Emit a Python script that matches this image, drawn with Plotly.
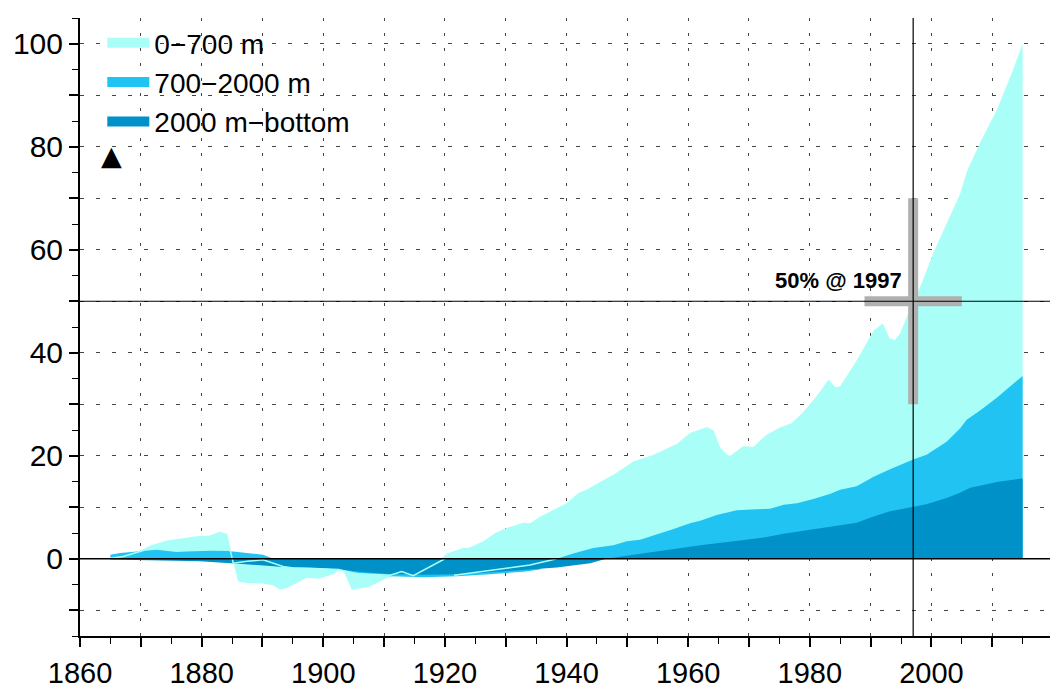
import plotly.graph_objects as go

# ---------------- data (percent of 2015 total) ----------------
total_years = [1865.0, 1866.6, 1868.8, 1871.5, 1874.3, 1876.4, 1879.2, 1881.1, 1883.0, 1884.1,
               1885.2, 1886.0, 1887.4, 1890.1, 1891.8, 1892.9, 1894.0, 1896.5, 1897.3, 1899.2,
               1901.7, 1902.5, 1903.3, 1904.7, 1907.5, 1910.4, 1912.9, 1914.8, 1919.5, 1920.3,
               1923.0, 1924.1, 1926.3, 1928.3, 1930.2, 1932.9, 1934.0, 1935.7, 1937.3, 1940.0,
               1942.0, 1943.3, 1946.1, 1947.7, 1951.0, 1954.3, 1958.1, 1960.3, 1963.1, 1964.2,
               1965.3, 1966.4, 1966.9, 1969.1, 1970.7, 1972.9, 1975.1, 1977.0, 1979.0, 1981.2,
               1983.1, 1984.2, 1985.0, 1987.7, 1990.5, 1992.0, 1993.1, 1994.0, 1994.9, 1996.5,
               1998.2, 2000.3, 2002.5, 2004.7, 2005.8, 2008.0, 2010.8, 2013.5, 2015.0]
total_pct = [0.1, 0.4, 1.1, 2.4, 3.4, 3.8, 4.2, 4.3, 5.1, 4.7,
             -0.85, -4.4, -4.7, -4.8, -5.2, -6.0, -5.7, -4.1, -3.7, -3.9,
             -3.0, -2.2, -2.3, -6.0, -5.5, -3.8, -2.8, -3.2, 0.1, 1.0,
             2.1, 2.2, 3.4, 5.0, 6.0, 7.0, 6.9, 8.2, 9.2, 10.8,
             12.8, 13.4, 15.3, 16.3, 18.9, 20.2, 22.3, 24.4, 25.6, 24.9,
             21.5, 20.2, 20.0, 21.9, 21.7, 24.1, 25.5, 26.3, 28.6, 31.7,
             34.8, 33.3, 33.5, 38.5, 44.3, 45.7, 42.8, 42.5, 43.9, 48.6,
             52.9, 59.3, 65.1, 70.8, 75.1, 80.8, 87.3, 95.2, 100.0]

mid_years = [1865.0, 1866.6, 1869.3, 1872.6, 1873.7, 1875.9, 1877.5, 1881.4, 1884.4, 1887.4,
             1890.1, 1891.8, 1895.0, 1900.0, 1903.0, 1905.0, 1907.2, 1910.0, 1911.0, 1916.5,
             1922.0, 1927.4, 1932.9, 1935.6, 1938.4, 1941.1, 1944.4, 1947.7, 1949.9, 1952.1,
             1954.8, 1957.6, 1960.3, 1962.0, 1964.7, 1968.0, 1971.3, 1973.5, 1975.7, 1977.9,
             1980.6, 1983.4, 1985.0, 1987.7, 1990.5, 1993.2, 1996.9, 1999.2, 2002.5, 2004.7,
             2005.8, 2008.0, 2010.8, 2015.0]
mid_pct = [0.8, 1.1, 1.4, 1.75, 1.6, 1.3, 1.4, 1.55, 1.5, 1.1,
           0.8, 0.0, -0.8, -1.5, -2.0, -2.6, -3.0, -3.2, -3.4, -3.6,
           -3.4, -3.0, -2.5, -2.1, 0.0, 1.0, 2.1, 2.6, 3.4, 3.7,
           4.7, 5.8, 6.9, 7.4, 8.5, 9.4, 9.6, 9.7, 10.5, 10.8,
           11.6, 12.6, 13.4, 14.1, 15.9, 17.4, 19.2, 20.2, 22.7, 25.3,
           27.0, 28.8, 31.3, 35.5]

deep_years = [1865.0, 1871.5, 1879.7, 1884.8, 1889.6, 1893.4, 1898.9, 1902.7, 1907.2, 1911.0,
              1916.5, 1922.0, 1927.4, 1932.9, 1938.4, 1943.9, 1946.5, 1949.9, 1956.5, 1962.0,
              1967.5, 1972.9, 1975.7, 1978.4, 1983.9, 1987.7, 1990.5, 1993.2, 1996.9, 1999.2,
              2002.5, 2004.7, 2006.4, 2008.0, 2010.8, 2015.0]
deep_pct = [-0.15, -0.25, -0.5, -0.85, -1.2, -1.6, -1.8, -2.1, -2.65, -2.95,
            -3.1, -3.0, -2.6, -2.1, -1.7, -0.85, 0.0, 0.6, 1.75, 2.6,
            3.4, 4.2, 4.85, 5.3, 6.3, 7.0, 8.2, 9.2, 10.0, 10.6,
            11.8, 12.8, 13.8, 14.2, 14.9, 15.6]

# thin light outline visible over the darker fills (None = gap)
edge_years = [1865.0, 1867.1, 1870.4, 1871.5, 1874.3, 1876.4, 1879.2, 1881.1, 1883.0, 1884.1,
              1885.2, 1887.5, 1890.1, 1893.4, 1895.1, 1898.4, 1902.5, 1903.3, 1904.4, 1907.7,
              1910.4, 1911.0, 1912.9, 1914.8, 1920.0, None, 1921.5, 1924.6, 1929.0, 1934.0, 1938.4]
edge_pct = [0.1, 0.45, 1.6, 2.4, 3.4, 3.8, 4.2, 4.3, 5.1, 4.7,
            -0.85, -0.5, -0.2, -1.5, -1.8, -1.9, -2.1, -2.3, -2.8, -3.0,
            -3.1, -3.2, -2.5, -3.3, 0.0, None, -3.2, -2.7, -2.1, -1.2, 0.0]

layer_names = ["0\u2212700 m", "700\u22122000 m", "2000 m\u2212bottom"]

half_year = 1997
half_pct = 50
cross_x = [1989, 2005]
cross_y = [30, 70]

x_tickvals = list(range(1860, 2020, 10))
x_ticktext = [str(v) if v % 20 == 0 else "" for v in x_tickvals]
y_tickvals = list(range(-10, 110, 10))
y_ticktext = [str(v) if v % 20 == 0 else "" for v in y_tickvals]

# ---------------- styling ----------------
C_LIGHT = "#A9FFF8"
C_MID = "#21C3F2"
C_DARK = "#0091C8"
FONT = "Liberation Sans, Arial, Helvetica, sans-serif"

fig = go.Figure()

for yrs, vals, col in [(total_years, total_pct, C_LIGHT),
                       (mid_years, mid_pct, C_MID),
                       (deep_years, deep_pct, C_DARK)]:
    fig.add_trace(go.Scatter(x=yrs, y=vals, mode="lines", fill="tozeroy",
                             fillcolor=col, line=dict(width=0, color=col),
                             showlegend=False, hoverinfo="skip"))

fig.add_trace(go.Scatter(x=edge_years, y=edge_pct, mode="lines",
                         line=dict(width=1.5, color=C_LIGHT), connectgaps=False,
                         showlegend=False, hoverinfo="skip"))

# gray cross at the 50 % crossing
fig.add_trace(go.Scatter(x=cross_x, y=[half_pct, half_pct], mode="lines",
                         line=dict(width=10, color="#B0B0B0"), showlegend=False,
                         hoverinfo="skip"))
fig.add_trace(go.Scatter(x=[half_year, half_year], y=cross_y, mode="lines",
                         line=dict(width=10, color="#B0B0B0"), showlegend=False,
                         hoverinfo="skip"))

# legend-only entries
for name, col in zip(layer_names, [C_LIGHT, C_MID, C_DARK]):
    fig.add_trace(go.Scatter(x=[None], y=[None], mode="lines", name=name,
                             line=dict(width=10, color=col)))

# extra legend glyph (black triangle) below the entries
fig.add_annotation(x=0.032, y=0.777, xref="paper", yref="paper", text="\u25B2",
                   showarrow=False, xanchor="center", yanchor="middle",
                   font=dict(family="DejaVu Sans", size=27, color="black"))

# reference lines (above traces)
fig.add_shape(type="line", xref="paper", x0=0, x1=1, yref="y", y0=0, y1=0,
              line=dict(color="black", width=1.6), layer="above")
fig.add_shape(type="line", xref="paper", x0=0, x1=1, yref="y", y0=half_pct, y1=half_pct,
              line=dict(color="black", width=1.2), layer="above")
fig.add_shape(type="line", xref="x", x0=half_year, x1=half_year, yref="paper", y0=0, y1=1,
              line=dict(color="black", width=1.2), layer="above")

fig.add_annotation(x=half_year - 1.5, y=half_pct, xref="x", yref="y",
                   text="<b>50% @ 1997</b>", showarrow=False,
                   xanchor="right", yanchor="bottom", yshift=6,
                   font=dict(family=FONT, size=22, color="black"))

fig.update_layout(
    width=1050, height=689,
    margin=dict(l=80, r=0, t=18, b=53, autoexpand=False),
    paper_bgcolor="white", plot_bgcolor="white",
    font=dict(family=FONT, color="black"),
    showlegend=True,
    legend=dict(x=0.023, y=1.0, xanchor="left", yanchor="top",
                bgcolor="rgba(0,0,0,0)", borderwidth=0,
                font=dict(family=FONT, size=28, color="black"),
                itemwidth=42, tracegroupgap=0),
    xaxis=dict(range=[1860, 2019.5], tickmode="array", tickvals=x_tickvals,
               ticktext=x_ticktext, ticks="outside", ticklen=9, tickwidth=1.5,
               tickcolor="black", showline=True, linecolor="black", linewidth=2,
               showgrid=True, gridcolor="#444", gridwidth=1, griddash="3px,12px",
               zeroline=False, tickfont=dict(family=FONT, size=29, color="black"),
               ticklabelstandoff=1, automargin=False,
               minor=dict(dtick=5, ticks="outside", ticklen=6, tickwidth=1.2,
                          tickcolor="black", showgrid=False)),
    yaxis=dict(range=[-15, 105], tickmode="array", tickvals=y_tickvals,
               ticktext=y_ticktext, ticks="outside", ticklen=9, tickwidth=1.5,
               tickcolor="black", showline=True, linecolor="black", linewidth=2,
               showgrid=True, gridcolor="#444", gridwidth=1, griddash="4px,12px",
               zeroline=False, tickfont=dict(family=FONT, size=30, color="black"),
               ticklabelstandoff=0, automargin=False,
               minor=dict(dtick=5, ticks="outside", ticklen=6, tickwidth=1.2,
                          tickcolor="black", showgrid=False)),
)

fig.write_html("out.html")
